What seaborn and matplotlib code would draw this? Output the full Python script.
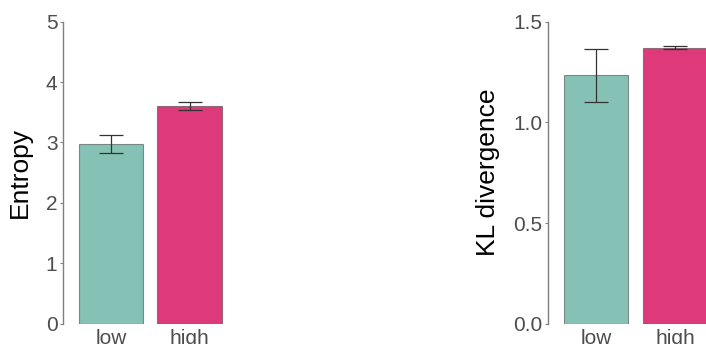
import matplotlib
matplotlib.use("Agg")
import matplotlib.pyplot as plt
import seaborn as sns
import numpy as np

sns.set_theme(style="white")
plt.rcParams["font.family"] = ["Liberation Sans", "DejaVu Sans"]

# Conditions and summary statistics
conditions = ["low", "high"]
entropy_mean = [2.97, 3.60]
entropy_lo = [2.82, 3.54]
entropy_hi = [3.12, 3.67]
kl_mean = [1.234, 1.371]
kl_lo = [1.100, 1.363]
kl_hi = [1.366, 1.378]
entropy_ticks = [0, 1, 2, 3, 4, 5]
kl_ticks = [0.0, 0.5, 1.0, 1.5]

palette = {"low": "#86C1B5", "high": "#DE3A7B"}

W, H = 706, 344
fig = plt.figure(figsize=(W / 100, H / 100), dpi=100)

def px_axes(left, top, right, bottom):
    return fig.add_axes([left / W, 1 - bottom / H, (right - left) / W, (bottom - top) / H])

ax1 = px_axes(63, 21.7, 237.5, 323.7)
ax2 = px_axes(548, 21.7, 723, 323.7)

def panel(ax, means, lo, hi, ticks, ylabel, fmt, label_x):
    sns.barplot(x=conditions, y=means, hue=conditions, palette=palette,
                order=conditions, hue_order=conditions, width=0.82,
                saturation=1,
                edgecolor=(0.25, 0.25, 0.25, 0.55), linewidth=0.8,
                errorbar=None, legend=False, ax=ax)
    m = np.array(means)
    yerr = [m - np.array(lo), np.array(hi) - m]
    ax.errorbar(np.arange(len(conditions)), m, yerr=yerr, fmt="none",
                ecolor="#333333", elinewidth=0.9, capsize=8.6, capthick=0.9, zorder=5)
    ax.set_xlim(-0.61, len(conditions) - 1 + 0.61)
    ax.set_ylim(ticks[0], ticks[-1])
    ax.set_yticks(ticks)
    ax.set_yticklabels([fmt.format(t) for t in ticks])
    for s in ["top", "right", "bottom"]:
        ax.spines[s].set_visible(False)
    ax.spines["left"].set_color("#7f7f7f")
    ax.spines["left"].set_linewidth(1.0)
    ax.tick_params(axis="y", left=True, length=2.5, width=0.8, color="#7f7f7f",
                   pad=1.5, labelsize=15, labelcolor="#4d4d4d")
    ax.tick_params(axis="x", bottom=False, length=0, pad=4,
                   labelsize=15, labelcolor="#4d4d4d")
    ax.set_xlabel("")
    ax.set_ylabel(ylabel, fontsize=19, color="black")
    ax.yaxis.set_label_coords(label_x, 0.5)
    ax.set_facecolor("white")

panel(ax1, entropy_mean, entropy_lo, entropy_hi, entropy_ticks, "Entropy", "{:d}", -0.18)
panel(ax2, kl_mean, kl_lo, kl_hi, kl_ticks, "KL divergence", "{:.1f}", -0.275)

fig.savefig("out.png", dpi=100, facecolor="white")
